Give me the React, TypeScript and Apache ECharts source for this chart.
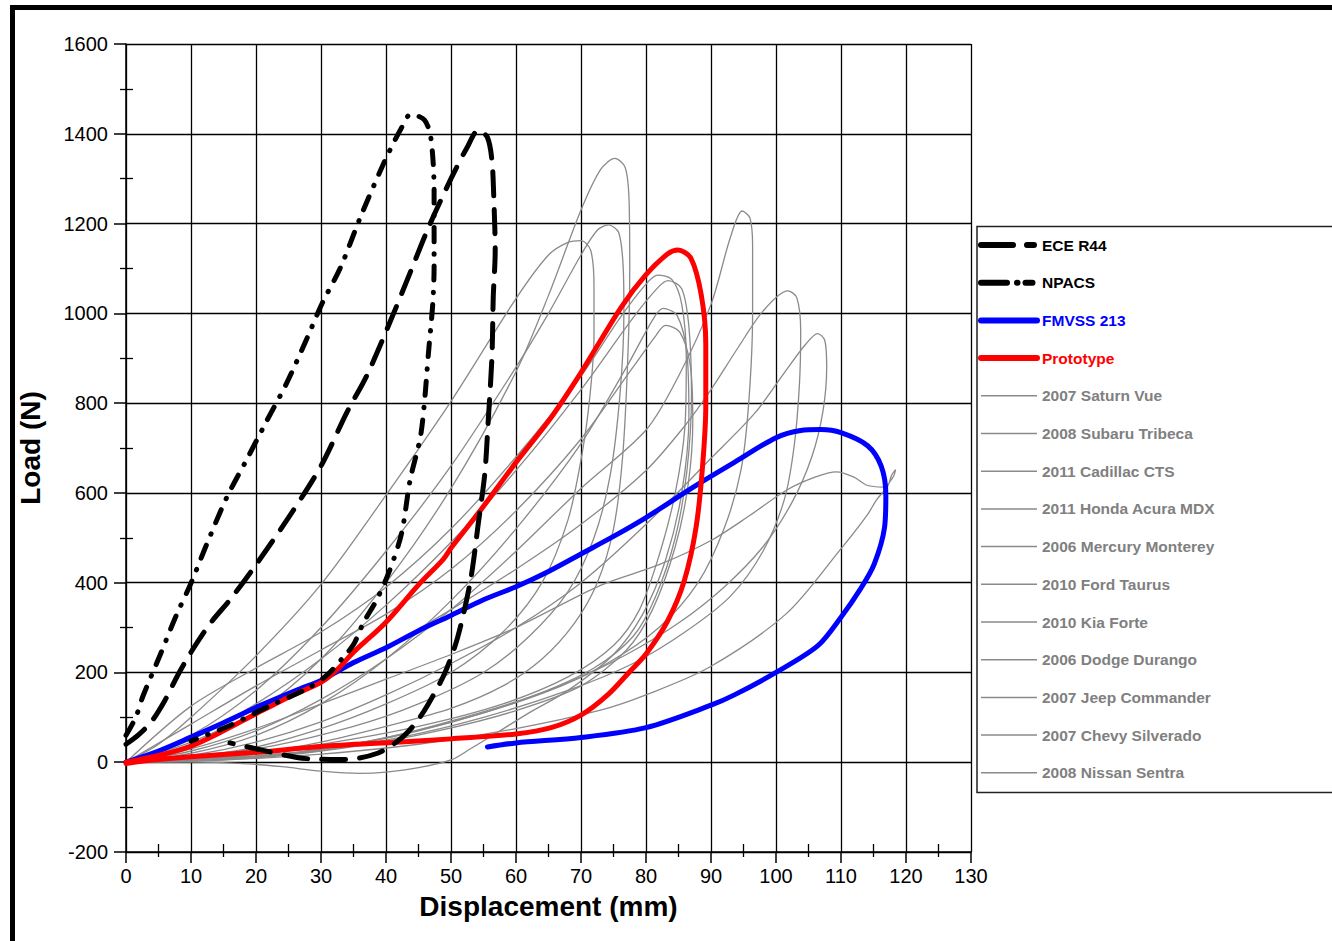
import React, { useEffect, useRef } from "react";
import * as echarts from "echarts";

// ---------- data (displacement mm, load N) ----------
const eceR44: number[][] = [
  [0, 40], [2, 62], [4, 92], [6, 138], [8, 195], [10, 245], [13, 310], [16, 362], [20, 440], [25, 545],
  [30, 660], [34, 780], [37, 860], [40.6, 980], [43.7, 1090], [46.5, 1190], [50, 1300], [52.5, 1370],
  [54.2, 1408], [55.6, 1392], [56.3, 1340], [56.6, 1250], [56.8, 1140], [56.5, 1036], [56.3, 903],
  [55.7, 755], [55.2, 643], [54.2, 532], [53, 405], [51, 277], [49, 197], [46.4, 127], [44.6, 88],
  [42.3, 53], [38.7, 20], [33.5, 6], [27.8, 8], [20.6, 28], [16, 43],
];
const npacs: number[][] = [
  [0, 60], [1.5, 100], [2.6, 147], [5.2, 237], [7.7, 326], [10, 399], [12.4, 485], [15.5, 590],
  [18.6, 675], [21.6, 759], [24.7, 844], [27.8, 943], [30.2, 1023], [33, 1102], [36, 1212],
  [39.7, 1336], [42.3, 1411], [43.8, 1443], [45.9, 1431], [46.9, 1391], [47.4, 1272], [47.4, 1105],
  [47.2, 1023], [46.6, 923], [45.4, 734], [43.7, 628], [42.4, 510], [40.5, 425], [38.5, 360],
  [36.5, 310], [35, 262], [33.5, 235], [31, 195], [28, 165], [22, 125], [16, 82], [10, 47],
];
const fmvss213: number[][] = [
  [0, 0], [5, 25], [10, 56], [15, 88], [20, 122], [26.7, 163], [30, 182], [35, 222], [40, 255],
  [45, 293], [50, 327], [55, 362], [60, 391], [65, 425], [70, 464], [75, 503], [80, 545], [87.4, 614],
  [93.6, 668], [100, 723], [103.8, 739], [106.9, 741], [110, 734], [114.1, 705], [116.2, 659],
  [116.9, 595], [116.7, 523], [115.1, 441], [113, 386], [110, 323], [106.4, 259], [100, 200],
  [93.6, 150], [90, 127], [80, 77], [70, 55], [60, 43], [55.6, 34],
];
const prototype: number[][] = [
  [0, 0], [5, 15], [10, 36], [15, 70], [20, 108], [25, 145], [30, 178], [32.4, 205], [35, 245],
  [40, 312], [45, 395], [48.8, 452], [50, 477], [55, 570], [60, 668], [65.4, 768], [70, 868],
  [76.2, 1014], [80, 1086], [83.3, 1132], [84.9, 1141], [86.9, 1123], [88.5, 1041], [89.2, 932],
  [89.2, 795], [88.7, 659], [87.7, 523], [85.9, 405], [83.3, 314], [80, 241], [77.7, 205], [74.1, 150],
  [70, 105], [65.4, 77], [60, 63], [50, 52], [42.3, 45], [30, 35], [20, 22], [10, 12], [3, 3], [0, -3],
];
const saturnVue: number[][] = [
  [0, 0], [10, 35], [20, 110], [30, 230], [40, 400], [50, 610], [60, 870], [65, 1040], [70, 1230],
  [73, 1320], [75.2, 1345], [76.8, 1325], [77.4, 1250], [77.5, 1100], [77.2, 900], [76.4, 680],
  [75, 520], [72.5, 400], [69, 310], [64, 230], [58, 170], [50, 120], [40, 80], [30, 45], [20, 20],
  [10, 6], [0, 0],
];
const subaruTribeca: number[][] = [
  [0, 0], [10, 25], [20, 70], [30, 140], [40, 230], [50, 340], [60, 470], [70, 610], [80, 740],
  [85, 860], [90, 1020], [93, 1170], [94.8, 1228], [96, 1212], [96.4, 1150], [96.4, 1000], [95.8, 800],
  [94.6, 650], [92, 520], [88, 400], [82, 300], [74, 220], [65, 160], [55, 110], [45, 70], [35, 40],
  [20, 12], [0, 0],
];
const cadillacCts: number[][] = [
  [0, 0], [10, 60], [20, 160], [30, 300], [40, 470], [50, 660], [60, 880], [65, 1000], [70, 1130],
  [72.5, 1185], [74.2, 1197], [75.8, 1180], [76.5, 1100], [76.6, 1000], [76, 820], [74.5, 640],
  [72, 500], [68, 380], [62, 280], [55, 200], [45, 130], [35, 80], [20, 30], [0, 0],
];
const hondaAcuraMdx: number[][] = [
  [0, 0], [5, 40], [10, 100], [20, 237], [30, 396], [40, 595], [50, 804], [60, 1033], [65, 1130],
  [68, 1158], [70, 1162], [71.5, 1140], [72, 1060], [72, 950], [71.4, 820], [70.2, 690], [68, 540],
  [64, 400], [58, 290], [50, 200], [40, 130], [30, 75], [18, 28], [0, 0],
];
const mercuryMonterey: number[][] = [
  [0, 0], [10, 45], [20, 110], [30, 180], [40, 255], [50, 340], [60, 430], [70, 530], [80, 650],
  [86, 750], [90, 830], [94, 920], [98, 1005], [101.8, 1050], [103.2, 1035], [103.8, 960],
  [103.6, 840], [102.8, 705], [101.3, 586], [98, 470], [93, 370], [86, 290], [78, 220], [68, 160],
  [55, 100], [42, 55], [25, 18], [0, 0],
];
const fordTaurus: number[][] = [
  [0, 0], [10, 15], [20, 45], [30, 90], [40, 150], [50, 220], [60, 300], [70, 400], [80, 530],
  [90, 677], [96.7, 777], [101.3, 868], [104.5, 930], [106.4, 955], [107.5, 940], [107.8, 880],
  [107.2, 780], [105.5, 680], [102.5, 580], [98, 480], [92, 390], [85, 310], [77, 240], [67, 170],
  [55, 110], [40, 55], [25, 20], [0, 0],
];
const kiaForte: number[][] = [
  [0, 0], [10, 125], [20, 210], [30, 290], [40, 390], [50, 520], [60, 680], [70, 860], [76, 990],
  [80, 1065], [81.8, 1085], [84, 1075], [85.5, 1020], [86.2, 900], [86, 750], [84.5, 600], [82, 460],
  [79, 340], [75, 260], [68, 190], [58, 130], [45, 80], [30, 40], [15, 10], [0, 0],
];
const dodgeDurango: number[][] = [
  [0, 0], [10, 50], [20, 130], [30, 230], [40, 350], [50, 490], [60, 650], [70, 830], [78, 990],
  [82, 1060], [83.4, 1073], [85.5, 1055], [86.6, 970], [87, 820], [86.3, 650], [84.5, 500],
  [81.5, 370], [78, 280], [72, 210], [63, 150], [52, 100], [40, 55], [25, 20], [0, 0],
];
const jeepCommander: number[][] = [
  [0, 0], [10, 20], [20, 60], [30, 130], [40, 230], [50, 360], [60, 520], [70, 710], [77, 880],
  [81, 985], [82.6, 1011], [84.8, 995], [86.3, 910], [86.6, 770], [85.5, 600], [83, 450], [79.5, 330],
  [75, 240], [68, 160], [62, 110], [57, 65], [53, 30], [50, 5], [45, -12], [40, -22], [36, -25],
  [30, -20], [24, -10], [18, -3], [10, 0], [0, 0],
];
const chevySilverado: number[][] = [
  [0, 0], [10, 85], [20, 170], [30, 250], [40, 330], [50, 430], [60, 560], [70, 720], [78, 880],
  [81.5, 950], [83, 973], [85.2, 958], [86.8, 885], [87.2, 760], [86.5, 620], [84.5, 480], [81, 340],
  [77, 250], [70, 170], [60, 115], [48, 70], [35, 35], [20, 10], [0, 0],
];
const nissanSentra: number[][] = [
  [0, 0], [10, 30], [20, 75], [30, 130], [40, 185], [50, 240], [60, 300], [73, 394], [82, 440],
  [90, 494], [96, 550], [101.6, 606], [106, 635], [109.3, 647], [112, 635], [114, 617], [116.5, 613],
  [118, 635], [118.4, 652], [117.8, 640], [117.2, 615], [115.5, 585], [114, 550], [109.8, 472],
  [101.6, 331], [89.8, 212], [80, 150], [73, 116], [60, 75], [45, 40], [30, 18], [15, 5], [0, 0],
];

const grayNames = [
  "2007 Saturn Vue", "2008 Subaru Tribeca", "2011 Cadillac CTS", "2011 Honda Acura MDX",
  "2006 Mercury Monterey", "2010 Ford Taurus", "2010 Kia Forte", "2006 Dodge Durango",
  "2007 Jeep Commander", "2007 Chevy Silverado", "2008 Nissan Sentra",
];
const grayData = [
  saturnVue, subaruTribeca, cadillacCts, hondaAcuraMdx, mercuryMonterey, fordTaurus, kiaForte,
  dodgeDurango, jeepCommander, chevySilverado, nissanSentra,
];

const FONT = "'Liberation Sans', Arial, sans-serif";
const GRAY = "#8a8a8a";

export default function App() {
  const ref = useRef<HTMLDivElement>(null);
  useEffect(() => {
    if (!ref.current) return;
    const chart = echarts.init(ref.current, undefined, { renderer: "svg" });

    const graySeries = grayNames.map((name, i) => ({
      name,
      type: "line",
      data: grayData[i],
      showSymbol: false,
      symbol: "none",
      smooth: 0.3,
      lineStyle: { color: GRAY, width: 1.3 },
      itemStyle: { color: GRAY },
      z: 2,
    }));

    const thick = (name: string, data: number[][], color: string, type: any, z: number) => ({
      name,
      type: "line",
      data,
      showSymbol: false,
      symbol: "none",
      smooth: 0.3,
      lineStyle: { color, width: 5, type, cap: "round", join: "round" },
      itemStyle: { color },
      z,
    });

    const legendData = [
      { name: "ECE R44", textStyle: { color: "#000" }, lineStyle: { width: 6, type: [32, 14, 7, 100], cap: "round" } },
      { name: "NPACS", textStyle: { color: "#000" }, lineStyle: { width: 6, type: [26, 10, 0.5, 8, 7, 100], cap: "round" } },
      { name: "FMVSS 213", textStyle: { color: "#0000ff" }, lineStyle: { width: 6, cap: "round" } },
      { name: "Prototype", textStyle: { color: "#ff0000" }, lineStyle: { width: 6, cap: "round" } },
      ...grayNames.map((n) => ({ name: n, textStyle: { color: "#808080" }, lineStyle: { width: 1.5 } })),
    ];

    const labelStyle = {
      fontFamily: FONT,
      fontSize: 20,
      color: "#000",
      formatter: (v: number) => String(v),
    };

    chart.setOption({
      animation: false,
      backgroundColor: "#fff",
      grid: { left: 126, right: 361, top: 44, bottom: 89, containLabel: false },
      legend: {
        orient: "vertical",
        left: 973,
        top: 232,
        itemWidth: 56,
        itemHeight: 14,
        itemGap: 21.7,
        selectedMode: false,
        itemStyle: { opacity: 0 },
        textStyle: { fontFamily: FONT, fontWeight: "bold", fontSize: 15.5, color: "#808080" },
        data: legendData,
      },
      xAxis: [
        {
          type: "value",
          min: 0,
          max: 130,
          interval: 10,
          position: "bottom",
          name: "Displacement (mm)",
          nameLocation: "middle",
          nameGap: 40,
          nameTextStyle: { fontFamily: FONT, fontWeight: "bold", fontSize: 28, color: "#000" },
          axisLine: { show: true, onZero: false, lineStyle: { color: "#000", width: 1.5 } },
          axisTick: { show: true, length: 11, lineStyle: { color: "#000", width: 1.5 } },
          minorTick: { show: true, splitNumber: 2, length: 5, lineStyle: { color: "#000", width: 1.3 } },
          axisLabel: { ...labelStyle, margin: 14 },
          splitLine: { show: true, lineStyle: { color: "#000", width: 1.3 } },
        },
        {
          type: "value",
          min: 0,
          max: 130,
          interval: 10,
          position: "bottom",
          axisLine: { show: false, onZero: false },
          axisTick: { show: true, inside: true, length: 0 },
          minorTick: { show: true, splitNumber: 2, length: 8, lineStyle: { color: "#000", width: 1.3 } },
          axisLabel: { show: false },
          splitLine: { show: false },
        },
      ],
      yAxis: [
        {
          type: "value",
          min: -200,
          max: 1600,
          interval: 200,
          position: "left",
          name: "Load (N)",
          nameLocation: "middle",
          nameGap: 82,
          nameTextStyle: { fontFamily: FONT, fontWeight: "bold", fontSize: 28, color: "#000" },
          axisLine: { show: true, onZero: false, lineStyle: { color: "#000", width: 1.5 } },
          axisTick: { show: true, length: 12, lineStyle: { color: "#000", width: 1.5 } },
          minorTick: { show: true, splitNumber: 2, length: 6, lineStyle: { color: "#000", width: 1.3 } },
          axisLabel: { ...labelStyle, margin: 18 },
          splitLine: { show: true, lineStyle: { color: "#000", width: 1.3 } },
        },
        {
          type: "value",
          min: -200,
          max: 1600,
          interval: 200,
          position: "left",
          axisLine: { show: false, onZero: false },
          axisTick: { show: true, inside: true, length: 0 },
          minorTick: { show: true, splitNumber: 2, length: 7, lineStyle: { color: "#000", width: 1.3 } },
          axisLabel: { show: false },
          splitLine: { show: false },
        },
      ],
      graphic: [
        {
          type: "rect",
          shape: { x: 12.5, y: 7.5, width: 1400, height: 1000 },
          style: { fill: "none", stroke: "#000", lineWidth: 5 },
          silent: true,
        },
        {
          type: "rect",
          shape: { x: 977, y: 226.5, width: 420, height: 566 },
          style: { fill: "none", stroke: "#222", lineWidth: 1.5 },
          silent: true,
        },
      ],
      series: [
        ...graySeries,
        thick("FMVSS 213", fmvss213, "#0000ff", "solid", 3),
        thick("Prototype", prototype, "#ff0000", "solid", 4),
        thick("ECE R44", eceR44, "#000", [24, 14], 5),
        thick("NPACS", npacs, "#000", [14, 12, 0.5, 12], 5),
      ],
    });
    return () => chart.dispose();
  }, []);

  return (
    <div
      ref={ref}
      style={{ position: "absolute", left: 0, top: 0, width: 1332, height: 941, background: "#fff" }}
    />
  );
}
